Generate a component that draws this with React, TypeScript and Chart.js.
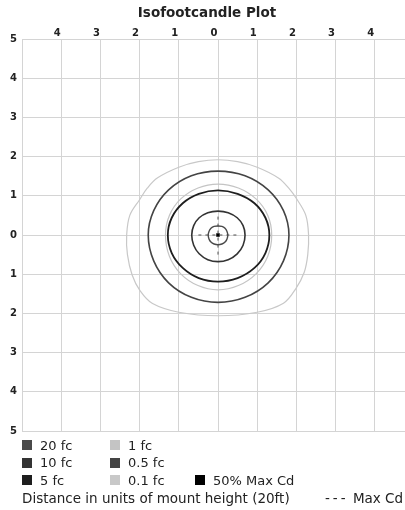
import React, { useEffect, useRef } from "react";
import { Chart, registerables } from "chart.js";

Chart.register(...registerables);

// ---------- data ----------
const chartTitle = "Isofootcandle Plot";
const axisMin = -5;
const axisMax = 5;
const hiddenXTickValues = [-5, 5];

// contour points [x, y] in units of mount height
const fc20: [number, number][] = [
  [0.25, 0], [0.23, 0.09], [0.18, 0.17], [0.1, 0.22], [0, 0.23], [-0.1, 0.22], [-0.18, 0.17], [-0.23, 0.09],
  [-0.25, 0], [-0.23, -0.1], [-0.18, -0.18], [-0.1, -0.23], [0, -0.25], [0.1, -0.23], [0.18, -0.18], [0.23, -0.1],
];
const fc10: [number, number][] = [
  [0.69, 0], [0.64, 0.24], [0.49, 0.44], [0.26, 0.57], [0, 0.61], [-0.26, 0.57], [-0.48, 0.44], [-0.62, 0.24],
  [-0.67, 0], [-0.62, -0.26], [-0.48, -0.48], [-0.26, -0.63], [0, -0.68], [0.26, -0.63], [0.49, -0.48], [0.64, -0.26],
];
const fc5: [number, number][] = [
  [1.31, 0], [1.21, 0.44], [0.93, 0.81], [0.5, 1.05], [0, 1.14], [-0.49, 1.05], [-0.9, 0.81], [-1.18, 0.44],
  [-1.28, 0], [-1.18, -0.46], [-0.9, -0.84], [-0.49, -1.1], [0, -1.19], [0.5, -1.1], [0.93, -0.84], [1.21, -0.46],
];
const fc1: [number, number][] = [
  [1.37, 0], [1.27, 0.5], [0.97, 0.92], [0.52, 1.2], [0, 1.3], [-0.51, 1.2], [-0.95, 0.92], [-1.24, 0.5],
  [-1.34, 0], [-1.24, -0.54], [-0.95, -0.99], [-0.51, -1.29], [0, -1.4], [0.52, -1.29], [0.97, -0.99], [1.27, -0.54],
];
const fc05: [number, number][] = [
  [1.81, 0], [1.67, 0.62], [1.28, 1.15], [0.69, 1.51], [0, 1.63], [-0.68, 1.51], [-1.26, 1.15], [-1.64, 0.62],
  [-1.78, 0], [-1.64, -0.66], [-1.26, -1.22], [-0.68, -1.59], [0, -1.72], [0.69, -1.59], [1.28, -1.22], [1.67, -0.66],
];
const fc01: [number, number][] = [
  [2.31, 0], [2.24, 0.5], [2.0, 0.93], [1.8, 1.2], [1.55, 1.45], [1.0, 1.73], [0.5, 1.87], [0, 1.92],
  [-0.5, 1.87], [-1.0, 1.73], [-1.54, 1.46], [-1.8, 1.2], [-2.0, 0.9], [-2.25, 0.5], [-2.33, 0], [-2.31, -0.5],
  [-2.19, -1.02], [-1.99, -1.42], [-1.67, -1.75], [-1.0, -1.97], [0, -2.06], [1.0, -1.97], [1.67, -1.74], [1.99, -1.36],
  [2.2, -0.95], [2.29, -0.5],
];
const maxCdHorizontal: [number, number][] = [[-0.5, 0], [0.5, 0]];
const maxCdVertical: [number, number][] = [[0, -0.5], [0, 0.5]];
const maxCd50: [number, number][] = [[0, 0]];

const seriesNames = ["20 fc", "10 fc", "5 fc", "1 fc", "0.5 fc", "0.1 fc", "50% Max Cd"];
const axisCaption = "Distance in units of mount height (20ft)";
const maxCdDash = "---";
const maxCdCaption = "Max Cd";

// ---------- styles ----------
const seriesColors = ["#4a4a4a", "#333333", "#1e1e1e", "#c4c4c4", "#444444", "#c8c8c8", "#000000"];
const seriesWidths = [1.4, 1.6, 1.8, 1.2, 1.6, 1.2];
const gridColor = "#d4d4d4";
const fontFamily = "'DejaVu Sans', Verdana, sans-serif";

const toPts = (arr: [number, number][]) => arr.map(([x, y]) => ({ x, y }));

// closes contour datasets into smooth loops (like radar lines do)
const closedLoopPlugin = {
  id: "closedLoop",
  afterDatasetsUpdate(chart: any) {
    chart.data.datasets.forEach((ds: any, i: number) => {
      if (!ds.closedLoop) return;
      const line = chart.getDatasetMeta(i).dataset;
      if (!line) return;
      line._loop = true;
      line._fullLoop = true;
      line._pointsUpdated = false;
      delete line._segments;
      delete line._path;
    });
  },
};

export default function App() {
  const ref = useRef<HTMLCanvasElement | null>(null);

  useEffect(() => {
    if (!ref.current) return;
    const contours = [fc20, fc10, fc5, fc1, fc05, fc01];
    const datasets: any[] = contours.map((c, i) => ({
      label: seriesNames[i],
      data: toPts(c),
      closedLoop: true,
      showLine: true,
      borderColor: seriesColors[i],
      backgroundColor: seriesColors[i],
      borderWidth: seriesWidths[i],
      pointRadius: 0,
      tension: 0.36,
      fill: false,
    }));
    [maxCdHorizontal, maxCdVertical].forEach((seg) => {
      datasets.push({
        label: "Max Cd",
        data: toPts(seg),
        showLine: true,
        borderColor: "#505050",
        borderWidth: 1,
        borderDash: [3, 4],
        pointRadius: 0,
        tension: 0,
        fill: false,
      });
    });
    datasets.push({
      label: seriesNames[6],
      data: toPts(maxCd50),
      showLine: false,
      pointStyle: "rect",
      pointRadius: 2.5,
      backgroundColor: seriesColors[6],
      borderColor: seriesColors[6],
      borderWidth: 0,
    });

    const chart = new Chart(ref.current, {
      type: "line",
      data: { datasets },
      plugins: [closedLoopPlugin],
      options: {
        responsive: false,
        animation: false,
        parsing: true,
        elements: { line: { capBezierPoints: false } },
        layout: { padding: { left: 0, right: 7, top: 0, bottom: 11 } },
        plugins: {
          legend: { display: false },
          tooltip: { enabled: false },
          title: {
            display: true,
            text: chartTitle,
            color: "#222",
            font: { family: fontFamily, size: 13.5, weight: "bold" },
            padding: { top: 5.6, bottom: 2 },
          },
        },
        scales: {
          x: {
            type: "linear",
            position: "top",
            min: axisMin,
            max: axisMax,
            afterFit: (s: any) => {
              s.height = 15.2;
            },
            grid: { color: gridColor, lineWidth: 1, drawTicks: false },
            border: { color: gridColor },
            ticks: {
              stepSize: 1,
              autoSkip: false,
              maxRotation: 0,
              padding: 0,
              labelOffset: -4,
              color: "#222",
              font: { family: fontFamily, size: 10, weight: "bold" },
              callback: (v: any) => (hiddenXTickValues.includes(Number(v)) ? "" : String(Math.abs(Number(v)))),
            },
          },
          y: {
            type: "linear",
            position: "left",
            min: axisMin,
            max: axisMax,
            afterFit: (s: any) => {
              s.width = 22;
            },
            grid: { color: gridColor, lineWidth: 1, drawTicks: false },
            border: { color: gridColor },
            ticks: {
              stepSize: 1,
              autoSkip: false,
              padding: 5,
              color: "#222",
              font: { family: fontFamily, size: 10, weight: "bold" },
              callback: (v: any) => String(Math.abs(Number(v))),
            },
          },
        },
      } as any,
    });
    return () => chart.destroy();
  }, []);

  const legendLayout = [
    { i: 0, col: 0, row: 0 },
    { i: 3, col: 1, row: 0 },
    { i: 1, col: 0, row: 1 },
    { i: 4, col: 1, row: 1 },
    { i: 2, col: 0, row: 2 },
    { i: 5, col: 1, row: 2 },
    { i: 6, col: 2, row: 2 },
  ];
  const colX = [22, 110, 195];
  const rowY = [445, 462.5, 480];

  return (
    <div
      style={{
        position: "absolute",
        left: 0,
        top: 0,
        width: 405,
        height: 510,
        overflow: "hidden",
        background: "#fff",
        fontFamily,
      }}
    >
      <canvas ref={ref} width={421} height={442} style={{ display: "block", width: 421, height: 442 }} />
      {legendLayout.map(({ i, col, row }) => (
        <div
          key={i}
          style={{
            position: "absolute",
            left: colX[col],
            top: rowY[row] - 9,
            height: 18,
            display: "flex",
            alignItems: "center",
            whiteSpace: "nowrap",
            fontSize: 13,
            color: "#222",
          }}
        >
          <span
            style={{
              display: "inline-block",
              width: 10,
              height: 10,
              background: seriesColors[i],
              marginRight: 8,
            }}
          />
          <span>{seriesNames[i]}</span>
        </div>
      ))}
      <div
        style={{
          position: "absolute",
          left: 22,
          top: 498 - 9,
          height: 18,
          lineHeight: "18px",
          fontSize: 13.5,
          color: "#222",
          whiteSpace: "nowrap",
        }}
      >
        {axisCaption}
      </div>
      <div
        style={{
          position: "absolute",
          left: 325,
          top: 498 - 9,
          height: 18,
          lineHeight: "18px",
          fontSize: 13.5,
          color: "#222",
          whiteSpace: "nowrap",
        }}
      >
        <span style={{ letterSpacing: 3 }}>{maxCdDash}</span> {maxCdCaption}
      </div>
    </div>
  );
}
